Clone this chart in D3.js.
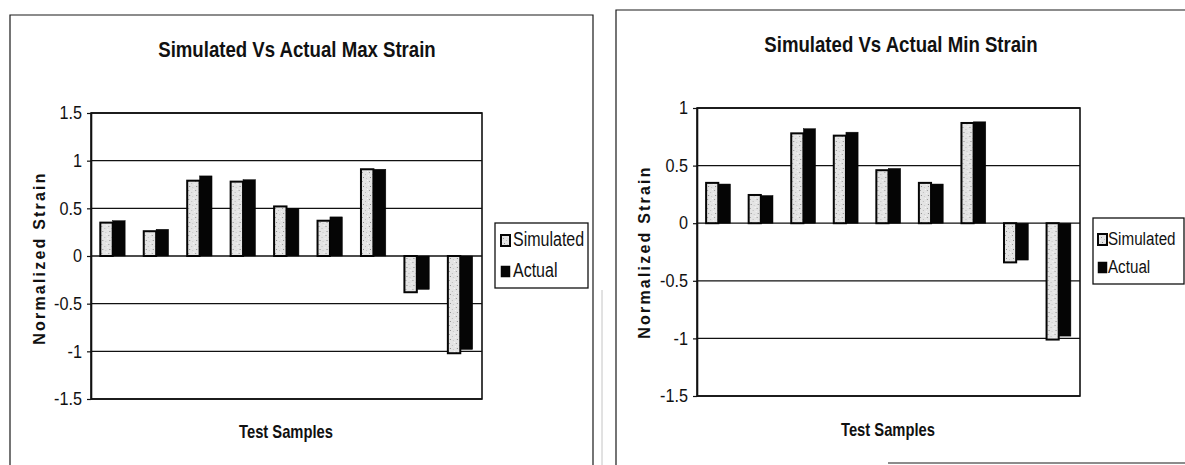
<!DOCTYPE html>
<html>
<head>
<meta charset="utf-8">
<script src="https://cdn.jsdelivr.net/npm/d3@7"></script>
<style>
  html, body { margin: 0; padding: 0; background: #fff; }
  svg { display: block; }
</style>
</head>
<body>
<svg id="chart" width="1185" height="465"></svg>
<script>
// ---------- DATA ----------
const categories = ["1", "2", "3", "4", "5", "6", "7", "8", "9"];
const seriesNames = ["Simulated", "Actual"];

const maxSimulated = [0.35, 0.26, 0.79, 0.78, 0.52, 0.37, 0.91, -0.38, -1.02];
const maxActual    = [0.37, 0.28, 0.84, 0.80, 0.50, 0.41, 0.91, -0.35, -0.98];

const minSimulated = [0.35, 0.245, 0.78, 0.76, 0.46, 0.35, 0.87, -0.34, -1.01];
const minActual    = [0.34, 0.24, 0.82, 0.79, 0.475, 0.34, 0.88, -0.32, -0.98];

const maxTicks = [-1.5, -1, -0.5, 0, 0.5, 1, 1.5];
const minTicks = [-1.5, -1, -0.5, 0, 0.5, 1];

const maxTitle = "Simulated  Vs Actual Max Strain";
const minTitle = "Simulated Vs Actual Min Strain";
const yTitle = "Normalized Strain";
const xTitle = "Test Samples";

// ---------- DRAWING ----------
const svg = d3.select("#chart");
const FONT = "'Liberation Sans', Arial, sans-serif";

const defs = svg.append("defs");
const pat = defs.append("pattern")
  .attr("id", "speck").attr("patternUnits", "userSpaceOnUse")
  .attr("width", 7).attr("height", 9);
pat.append("rect").attr("width", 7).attr("height", 9).attr("fill", "#e4e4e4");
[[1, 1, "#9a9a9a"], [4, 3, "#bdbdbd"], [2, 6, "#8a8a8a"], [5, 7, "#c8c8c8"], [0, 4, "#f4f4f4"], [6, 0, "#f8f8f8"]]
  .forEach(([cx, cy, c]) => pat.append("rect").attr("x", cx).attr("y", cy).attr("width", 1).attr("height", 1).attr("fill", c));

// horizontal condensing (narrow-font look) about the text's anchor x
function condense(sel, k) {
  sel.each(function () {
    const xv = +(this.getAttribute("x") || 0);
    d3.select(this).attr("transform", `translate(${xv},0) scale(${k},1) translate(${-xv},0)`);
  });
}

function drawChart(cfg) {
  const g = svg.append("g");

  // outer frame lines
  g.append("path")
    .attr("d", cfg.framePath)
    .attr("fill", "none").attr("stroke", "#1a1a1a").attr("stroke-width", 1.2);

  const x = d3.scaleBand().domain(categories)
    .range([cfg.px0, cfg.px1]).paddingInner(1.5 / 3.5).paddingOuter(0.75 / 3.5);
  const xs = d3.scaleBand().domain(seriesNames).range([0, x.bandwidth()]);
  const y = d3.scaleLinear().domain(cfg.domain).range([cfg.pyBot, cfg.pyTop]);

  // gridlines
  g.append("g").selectAll("line").data(cfg.ticks).join("line")
    .attr("x1", cfg.px0).attr("x2", cfg.px1)
    .attr("y1", d => y(d)).attr("y2", d => y(d))
    .attr("stroke", "#111").attr("stroke-width", 1.3);

  // plot area border
  g.append("rect")
    .attr("x", cfg.px0).attr("y", y(cfg.domain[1]))
    .attr("width", cfg.px1 - cfg.px0).attr("height", y(cfg.domain[0]) - y(cfg.domain[1]))
    .attr("fill", "none").attr("stroke", "#111").attr("stroke-width", 1.6);

  // bars
  const rows = categories.map((c, i) => ({ c, vals: [cfg.sim[i], cfg.act[i]] }));
  const grp = g.append("g").selectAll("g").data(rows).join("g")
    .attr("transform", d => `translate(${x(d.c)},0)`);
  grp.selectAll("rect").data(d => d.vals.map((v, j) => ({ v, s: seriesNames[j] }))).join("rect")
    .attr("x", d => xs(d.s))
    .attr("width", xs.bandwidth())
    .attr("y", d => Math.min(y(d.v), y(0)))
    .attr("height", d => Math.abs(y(d.v) - y(0)))
    .attr("fill", d => d.s === "Simulated" ? "url(#speck)" : "#050505")
    .attr("stroke", "#050505").attr("stroke-width", d => d.s === "Simulated" ? 2 : 0.5);

  // y axis
  const ax = g.append("g").attr("transform", `translate(${cfg.px0},0)`)
    .call(d3.axisLeft(y).tickValues(cfg.ticks).tickSize(4).tickSizeOuter(0).tickPadding(5).tickFormat(d => String(d)));
  ax.select(".domain").attr("stroke", "#111").attr("stroke-width", 1.6);
  ax.selectAll(".tick line").attr("stroke", "#111").attr("stroke-width", 1.2);
  ax.selectAll(".tick text")
    .attr("font-family", FONT).attr("font-size", 18).attr("fill", "#111");
  condense(ax.selectAll(".tick text"), 0.9);

  // title
  const t = g.append("text").attr("x", cfg.titleX).attr("y", cfg.titleY)
    .attr("text-anchor", "middle").attr("font-family", FONT).attr("font-weight", "bold")
    .attr("font-size", 23).attr("fill", "#111").text(cfg.title);
  condense(t, 0.81);

  // x title
  const xt = g.append("text").attr("x", cfg.xTitleX).attr("y", cfg.xTitleY)
    .attr("text-anchor", "middle").attr("font-family", FONT).attr("font-weight", "bold")
    .attr("font-size", 18).attr("fill", "#111").text(xTitle);
  condense(xt, 0.82);

  // y title
  g.append("text")
    .attr("transform", `translate(${cfg.yTitleX},${cfg.yTitleY}) rotate(-90)`)
    .attr("text-anchor", "middle").attr("font-family", FONT).attr("font-weight", "bold")
    .attr("font-size", 16).attr("letter-spacing", 2.2).attr("fill", "#111").text(yTitle);

  // legend
  const L = cfg.legend;
  g.append("rect").attr("x", L.x).attr("y", L.y).attr("width", L.w).attr("height", L.h)
    .attr("fill", "#fff").attr("stroke", "#111").attr("stroke-width", 1.3);
  const items = g.append("g").selectAll("g").data(seriesNames).join("g")
    .attr("transform", (d, i) => `translate(${L.x},${L.rows[i]})`);
  items.append("rect")
    .attr("x", L.sw).attr("y", -11).attr("width", 9).attr("height", 11)
    .attr("fill", d => d === "Simulated" ? "url(#speck)" : "#050505")
    .attr("stroke", "#050505").attr("stroke-width", d => d === "Simulated" ? 2 : 0.5);
  const lt = items.append("text").attr("x", L.tx).attr("y", 0)
    .attr("font-family", FONT).attr("font-size", L.fs).attr("fill", "#111").text(d => d);
  condense(lt, 0.8);
}

drawChart({
  framePath: "M10,468 L10,15 L593,15 L593,468",
  px0: 91, px1: 482, pyTop: 113, pyBot: 399,
  domain: [-1.5, 1.5], ticks: maxTicks,
  sim: maxSimulated, act: maxActual,
  title: maxTitle, titleX: 297, titleY: 57,
  xTitleX: 286, xTitleY: 438,
  yTitleX: 45, yTitleY: 258,
  legend: { x: 495, y: 223, w: 93, h: 65, rows: [246, 277], sw: 6, tx: 18, fs: 20 }
});

drawChart({
  framePath: "M616,468 L616,10 L1200,10 M888,463 L1200,463",
  px0: 697, px1: 1080, pyTop: 108, pyBot: 396,
  domain: [-1.5, 1], ticks: minTicks,
  sim: minSimulated, act: minActual,
  title: minTitle, titleX: 901, titleY: 52,
  xTitleX: 888, xTitleY: 436,
  yTitleX: 650, yTitleY: 252,
  legend: { x: 1093, y: 218, w: 91, h: 66, rows: [245, 273], sw: 5, tx: 15, fs: 19 }
});

// faint scan edge between charts
svg.append("line").attr("x1", 602).attr("x2", 602).attr("y1", 290).attr("y2", 465)
  .attr("stroke", "#c4c4c4").attr("stroke-width", 1);
</script>
</body>
</html>
